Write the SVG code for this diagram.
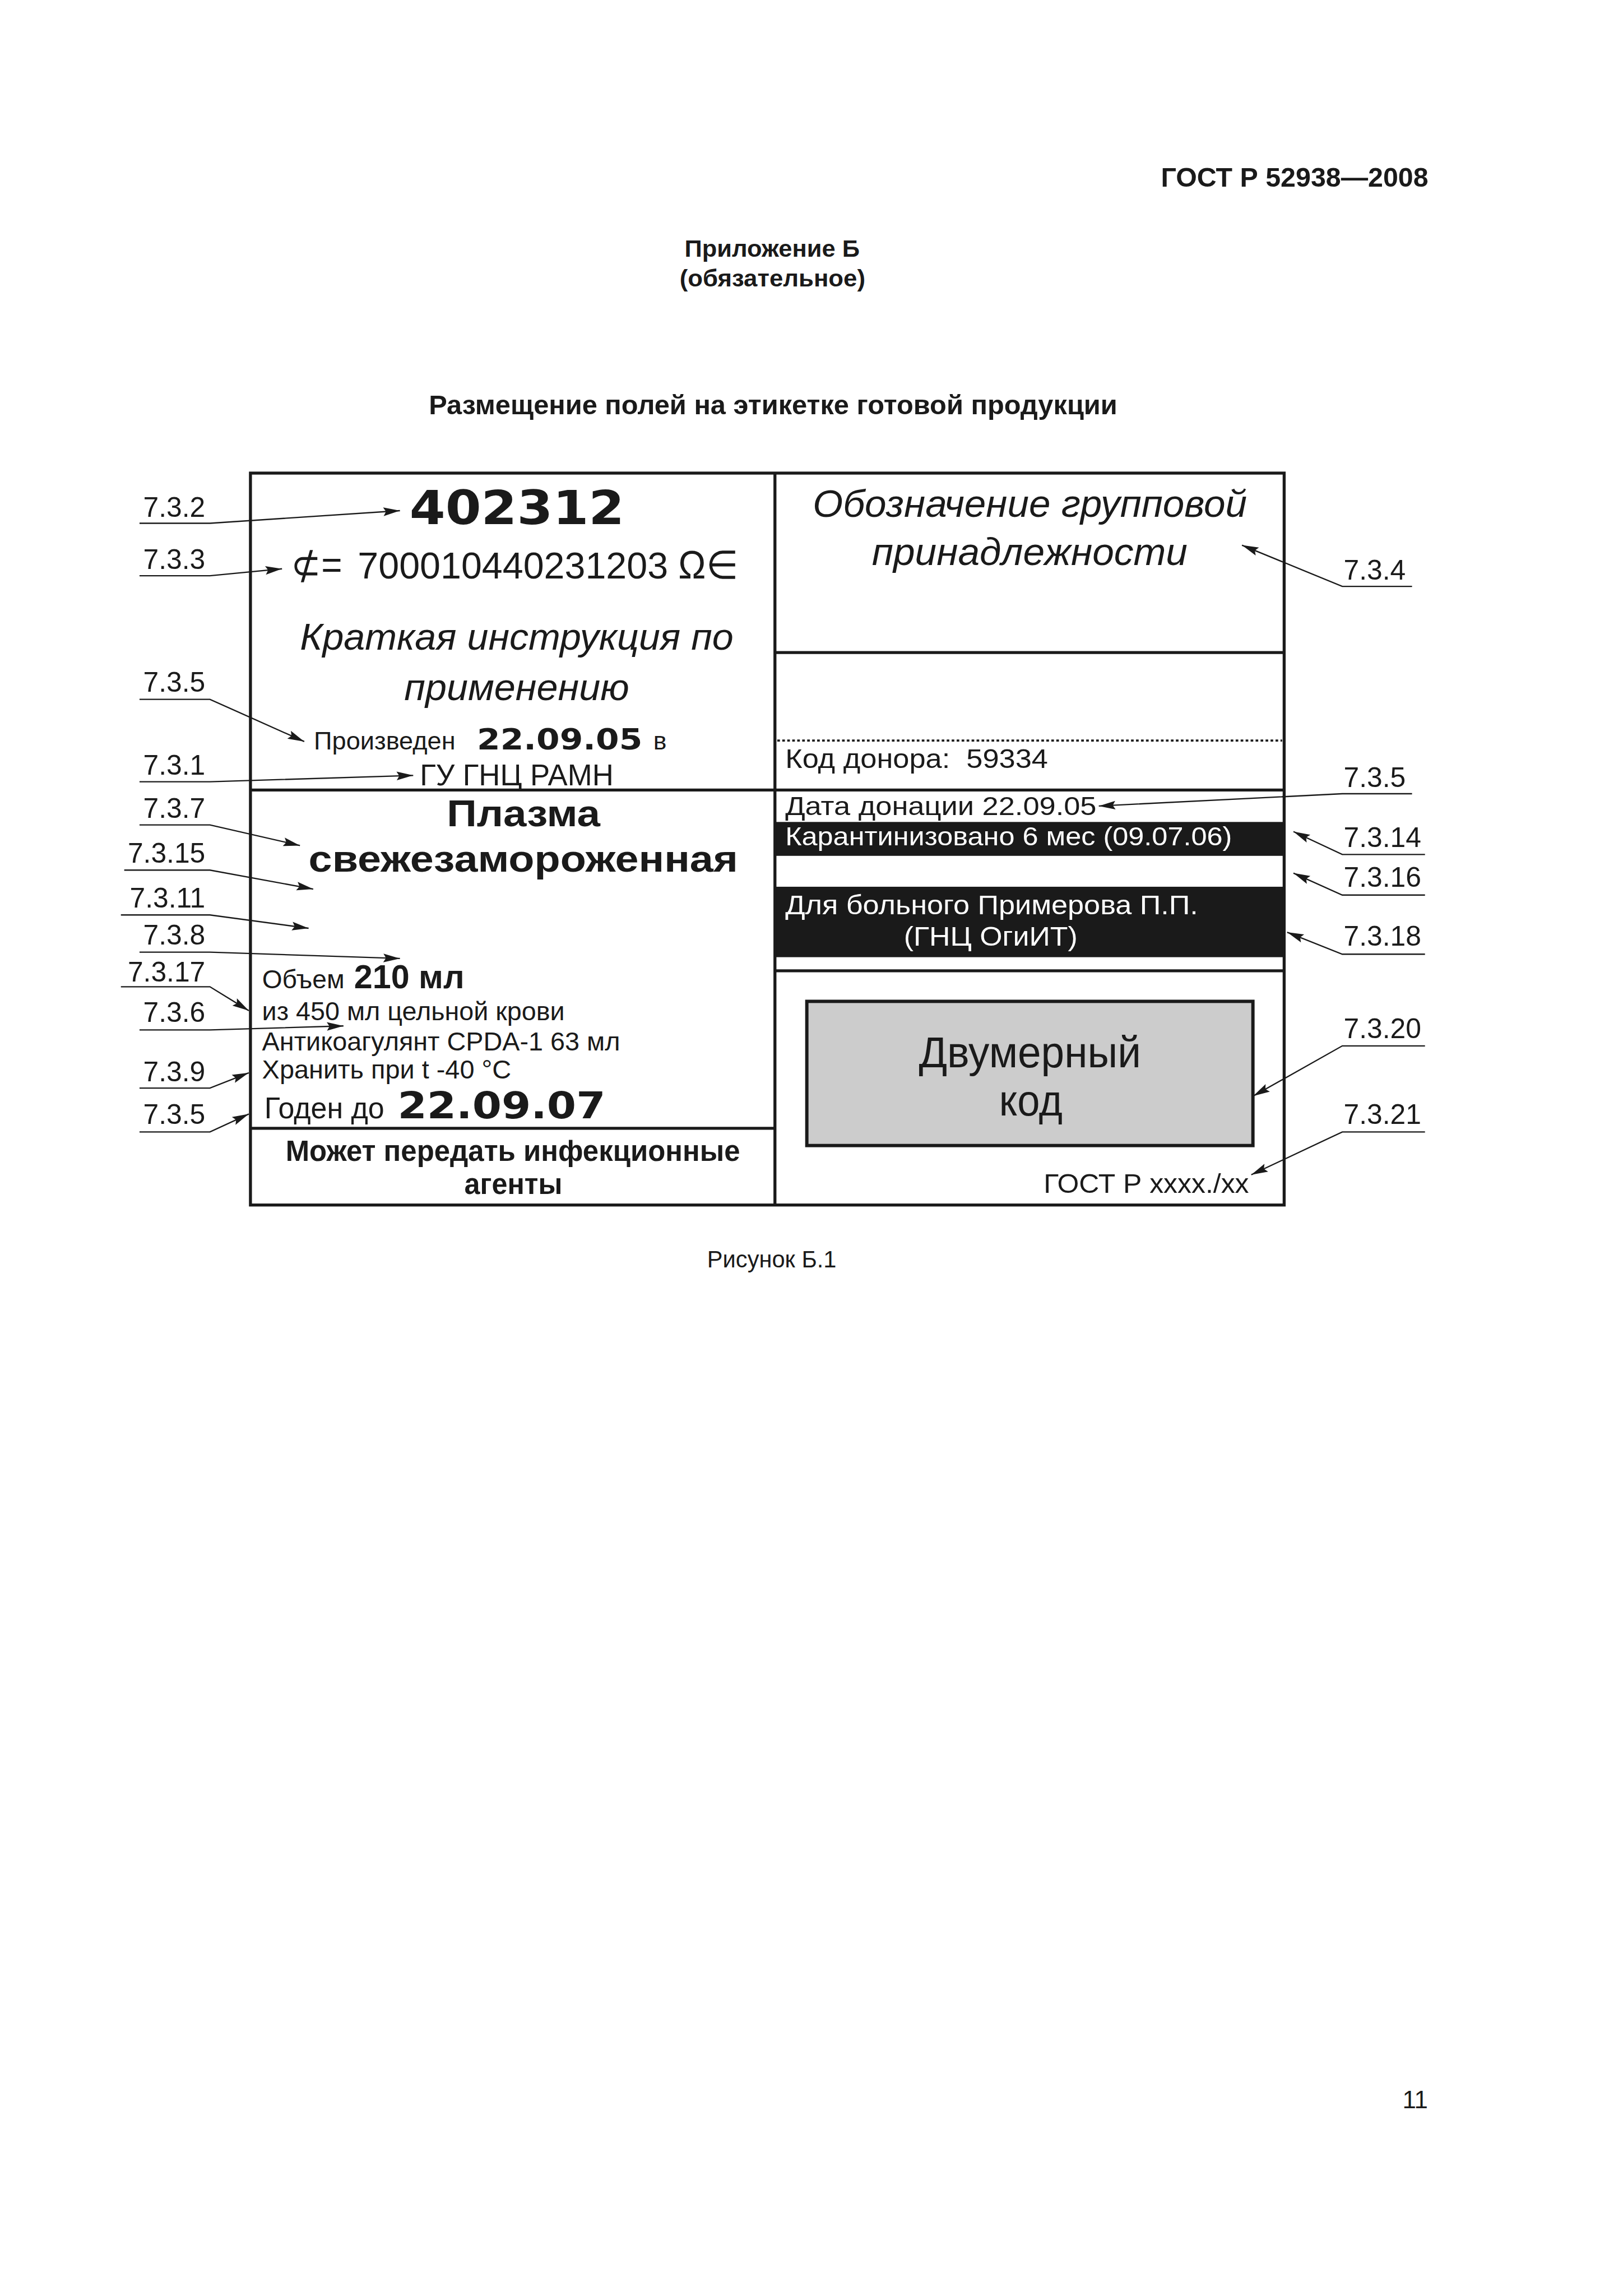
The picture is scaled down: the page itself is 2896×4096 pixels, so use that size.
<svg xmlns="http://www.w3.org/2000/svg" width="2896" height="4096" viewBox="0 0 2896 4096">
<defs>
<style>
.t{font-family:"Liberation Sans",Arial,sans-serif;fill:#1a1a1a}
.b{font-weight:bold}
.i{font-style:italic}
.w{fill:#ffffff}
.v{font-family:"DejaVu Sans","Liberation Sans",sans-serif;font-weight:bold;fill:#1a1a1a}
.lbl{font-family:"Liberation Sans",Arial,sans-serif;font-size:84px;fill:#1a1a1a}
.thick{stroke:#1a1a1a;stroke-width:9;fill:none}
.band{fill:#1a1a1a}
.lead{stroke:#1a1a1a;stroke-width:4;fill:none;marker-end:url(#arr)}
</style>
<marker id="arr" viewBox="-52 -15 54 30" refX="0" refY="0" markerWidth="54" markerHeight="30" markerUnits="userSpaceOnUse" orient="auto">
<path d="M0,0 L-50,-13 L-42,0 L-50,13 Z" fill="#1a1a1a"/>
</marker>
</defs>
<rect x="0" y="0" width="2896" height="4096" fill="#ffffff"/>
<g transform="scale(0.5927)">
<g id="page-header">
<text class="t b" x="3495" y="561" font-size="81" textLength="805" lengthAdjust="spacingAndGlyphs">ГОСТ Р 52938—2008</text>
<text class="t b" x="2061" y="773" font-size="72" textLength="527" lengthAdjust="spacingAndGlyphs">Приложение Б</text>
<text class="t b" x="2046" y="862" font-size="72" textLength="559" lengthAdjust="spacingAndGlyphs">(обязательное)</text>
<text class="t b" x="1291" y="1247" font-size="80" textLength="2073" lengthAdjust="spacingAndGlyphs">Размещение полей на этикетке готовой продукции</text>
</g>

<g id="label-frame">
<rect class="band" x="2333" y="2474" width="1533" height="102"/>
<rect class="band" x="2333" y="2669" width="1533" height="212"/>
<rect x="2429" y="3014" width="1343" height="434" fill="#cccccc" stroke="#1a1a1a" stroke-width="10"/>
<rect class="thick" x="754" y="1424" width="3112" height="2203"/>
<line class="thick" x1="2333" y1="1424" x2="2333" y2="3627"/>
<line class="thick" x1="754" y1="2378" x2="3866" y2="2378"/>
<line class="thick" x1="2333" y1="1964" x2="3866" y2="1964"/>
<line class="thick" x1="754" y1="3396" x2="2333" y2="3396"/>
<line class="thick" x1="2333" y1="2922" x2="3866" y2="2922"/>
<line x1="2340" y1="2229" x2="3860" y2="2229" stroke="#1a1a1a" stroke-width="6" stroke-dasharray="8 7"/>
</g>

<g id="field-number">
<text class="v" x="1233" y="1577" font-size="140" textLength="647" lengthAdjust="spacingAndGlyphs">402312</text>
</g>
<g id="field-barcode">
<text class="t" x="876" y="1741" font-size="118" textLength="154" lengthAdjust="spacingAndGlyphs">⊄=</text>
<text class="t" x="1077" y="1741" font-size="112">700010440231203</text>
<text class="t" x="2042" y="1741" font-size="118" textLength="180" lengthAdjust="spacingAndGlyphs">Ω∈</text>
</g>
<g id="field-instruction">
<text class="t i" x="903" y="1955" font-size="112" textLength="1305" lengthAdjust="spacingAndGlyphs">Краткая инструкция по</text>
<text class="t i" x="1217" y="2108" font-size="112" textLength="677" lengthAdjust="spacingAndGlyphs">применению</text>
</g>
<g id="field-produced">
<text class="t" x="945" y="2255" font-size="74" textLength="426" lengthAdjust="spacingAndGlyphs">Произведен</text>
<text class="v" x="1436" y="2255" font-size="88" textLength="498" lengthAdjust="spacingAndGlyphs">22.09.05</text>
<text class="t" x="1967" y="2255" font-size="74" textLength="40" lengthAdjust="spacingAndGlyphs">в</text>
<text class="t" x="1264" y="2364" font-size="92" textLength="583" lengthAdjust="spacingAndGlyphs">ГУ ГНЦ РАМН</text>
</g>
<g id="field-group">
<text class="t i" x="2447" y="1556" font-size="116" textLength="1307" lengthAdjust="spacingAndGlyphs">Обозначение групповой</text>
<text class="t i" x="2625" y="1700" font-size="116" textLength="950" lengthAdjust="spacingAndGlyphs">принадлежности</text>
</g>
<g id="field-donor">
<text class="t" x="2364" y="2312" font-size="80" textLength="791" lengthAdjust="spacingAndGlyphs" xml:space="preserve">Код донора:  59334</text>
</g>
<g id="field-donation-date">
<text class="t" x="2364" y="2454" font-size="78" textLength="937" lengthAdjust="spacingAndGlyphs">Дата донации 22.09.05</text>
</g>
<g id="field-quarantine">
<text class="t w" x="2364" y="2545" font-size="78" textLength="1345" lengthAdjust="spacingAndGlyphs">Карантинизовано 6 мес (09.07.06)</text>
</g>
<g id="field-patient">
<text class="t w" x="2364" y="2752" font-size="80" textLength="1243" lengthAdjust="spacingAndGlyphs">Для больного Примерова П.П.</text>
<text class="t w" x="2721" y="2847" font-size="80" textLength="523" lengthAdjust="spacingAndGlyphs">(ГНЦ ОгиИТ)</text>
</g>
<g id="field-2d-code">
<text class="t" x="2766" y="3212" font-size="132" textLength="669" lengthAdjust="spacingAndGlyphs">Двумерный</text>
<text class="t" x="3008" y="3357" font-size="132" textLength="191" lengthAdjust="spacingAndGlyphs">код</text>
</g>
<g id="field-gost">
<text class="t" x="3142" y="3590" font-size="80" textLength="618" lengthAdjust="spacingAndGlyphs">ГОСТ Р xxxx./xx</text>
</g>
<g id="field-product">
<text class="t b" x="1345" y="2487" font-size="114" textLength="462" lengthAdjust="spacingAndGlyphs">Плазма</text>
<text class="t b" x="929" y="2624" font-size="114" textLength="1293" lengthAdjust="spacingAndGlyphs">свежезамороженная</text>
</g>
<g id="field-volume">
<text class="t" x="789" y="2974" font-size="78" textLength="248" lengthAdjust="spacingAndGlyphs">Объем</text>
<text class="t b" x="1066" y="2974" font-size="100" textLength="332" lengthAdjust="spacingAndGlyphs">210 мл</text>
<text class="t" x="789" y="3070" font-size="78" textLength="911" lengthAdjust="spacingAndGlyphs">из 450 мл цельной крови</text>
<text class="t" x="789" y="3161" font-size="78" textLength="1078" lengthAdjust="spacingAndGlyphs">Антикоагулянт CPDA-1 63 мл</text>
<text class="t" x="789" y="3246" font-size="78" textLength="750" lengthAdjust="spacingAndGlyphs">Хранить при t -40 °C</text>
</g>
<g id="field-expiry">
<text class="t" x="796" y="3366" font-size="90" textLength="361" lengthAdjust="spacingAndGlyphs">Годен до</text>
<text class="v" x="1197" y="3366" font-size="110" textLength="626" lengthAdjust="spacingAndGlyphs">22.09.07</text>
</g>
<g id="field-warning">
<text class="t b" x="860" y="3494" font-size="86" textLength="1368" lengthAdjust="spacingAndGlyphs">Может передать инфекционные</text>
<text class="t b" x="1398" y="3594" font-size="86" textLength="295" lengthAdjust="spacingAndGlyphs">агенты</text>
</g>

<g id="callout-labels">
<text class="lbl" x="618" y="1555" text-anchor="end">7.3.2</text>
<text class="lbl" x="618" y="1712" text-anchor="end">7.3.3</text>
<text class="lbl" x="618" y="2082" text-anchor="end">7.3.5</text>
<text class="lbl" x="618" y="2332" text-anchor="end">7.3.1</text>
<text class="lbl" x="618" y="2462" text-anchor="end">7.3.7</text>
<text class="lbl" x="618" y="2597" text-anchor="end">7.3.15</text>
<text class="lbl" x="618" y="2731" text-anchor="end">7.3.11</text>
<text class="lbl" x="618" y="2843" text-anchor="end">7.3.8</text>
<text class="lbl" x="618" y="2954" text-anchor="end">7.3.17</text>
<text class="lbl" x="618" y="3076" text-anchor="end">7.3.6</text>
<text class="lbl" x="618" y="3254" text-anchor="end">7.3.9</text>
<text class="lbl" x="618" y="3382" text-anchor="end">7.3.5</text>
<text class="lbl" x="4045" y="1744">7.3.4</text>
<text class="lbl" x="4045" y="2369">7.3.5</text>
<text class="lbl" x="4045" y="2549">7.3.14</text>
<text class="lbl" x="4045" y="2669">7.3.16</text>
<text class="lbl" x="4045" y="2847">7.3.18</text>
<text class="lbl" x="4045" y="3125">7.3.20</text>
<text class="lbl" x="4045" y="3382">7.3.21</text>
</g>

<g id="connectors">
<path class="lead" d="M420,1575 H632 L1204,1537"/>
<path class="lead" d="M420,1733 H632 L849,1712"/>
<path class="lead" d="M420,2105 H632 L916,2232"/>
<path class="lead" d="M420,2353 H632 L1244,2334"/>
<path class="lead" d="M420,2483 H632 L903,2545"/>
<path class="lead" d="M374,2619 H632 L943,2676"/>
<path class="lead" d="M364,2754 H632 L929,2794"/>
<path class="lead" d="M420,2866 H632 L1204,2885"/>
<path class="lead" d="M364,2970 H632 L749,3042"/>
<path class="lead" d="M420,3100 H632 L1034,3088"/>
<path class="lead" d="M420,3275 H632 L749,3229"/>
<path class="lead" d="M420,3407 H632 L749,3353"/>
<path class="lead" d="M4251,1765 H4041 L3739,1641"/>
<path class="lead" d="M4251,2389 H4041 L3308,2426"/>
<path class="lead" d="M4290,2572 H4041 L3894,2503"/>
<path class="lead" d="M4290,2694 H4041 L3894,2628"/>
<path class="lead" d="M4290,2872 H4041 L3875,2806"/>
<path class="lead" d="M4290,3148 H4041 L3773,3299"/>
<path class="lead" d="M4290,3407 H4041 L3767,3536"/>
</g>

<g id="caption">
<text class="t" x="2129" y="3815" font-size="72" textLength="389" lengthAdjust="spacingAndGlyphs">Рисунок Б.1</text>
</g>
<g id="page-number">
<text class="t" x="4222" y="6346" font-size="74">11</text>
</g>
</g>
</svg>
